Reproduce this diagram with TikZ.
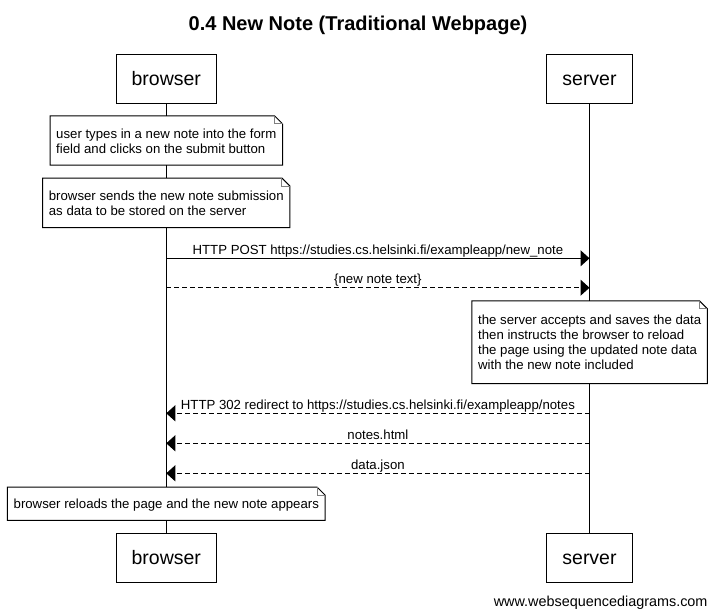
\documentclass[tikz,border=0pt]{standalone}
\usepackage{fontspec}
\setmainfont{Liberation Sans}
\usetikzlibrary{arrows.meta}
\newcommand\ns{\rule[-1.5pt]{0pt}{13.5pt}}
\newcommand\drawnote[1]{%
  \draw[line width=1pt] (#1.north west) -- ([xshift=-8pt]#1.north east) -- ([yshift=-8pt]#1.north east) -- (#1.south east) -- (#1.south west) -- cycle;
  \draw[gray, line width=0.8pt] ([xshift=-8pt]#1.north east) |- ([yshift=-8pt]#1.north east);}
\tikzset{
  actor/.style={draw, line width=1pt, fill=white, font=\fontsize{19.5}{22}\selectfont,
    minimum height=49pt, inner xsep=15.5pt, inner ysep=0pt, text height=14pt, text depth=0pt},
  notebox/.style={fill=white, align=left, font=\fontsize{13.2}{15}\selectfont, inner xsep=6pt, inner ysep=0pt},
  msg/.style={line width=1pt, -{Triangle[length=9pt,width=16pt]}},
  reply/.style={msg, dash pattern=on 5pt off 3pt},
  lbl/.style={font=\fontsize{13.2}{15}\selectfont, anchor=base, inner sep=0pt, yshift=4pt},
}
\begin{document}
\begin{tikzpicture}[x=1pt,y=-1pt]
\useasboundingbox (0,0) rectangle (716,616);
\node[font=\bfseries\fontsize{20}{24}\selectfont, anchor=base, inner sep=0pt] (title) at (358,30) {0.4 New Note (Traditional Webpage)};
\node[actor] (bt) at (166.3,78.5) {browser};
\node[actor] (st) at (589.5,78.5) {server};
\node[actor] (bb) at (166.3,557.8) {browser};
\node[actor] (sb) at (589.5,557.8) {server};
\draw[line width=1pt] (bt) -- (bb);
\draw[line width=1pt] (st) -- (sb);
\node[notebox, minimum height=49pt] (n1) at (166.3,140.5) {\ns user types in a new note into the form\\\ns field and clicks on the submit button};
\drawnote{n1}
\node[notebox, minimum height=49pt] (n2) at (166.3,202.8) {\ns browser sends the new note submission\\\ns as data to be stored on the server};
\drawnote{n2}
\draw[msg] (bt |- 0,258.3) -- node[lbl] {HTTP POST https://studies.cs.helsinki.fi/exampleapp/new\_note} (st |- 0,258.3);
\draw[reply] (bt |- 0,287.7) -- node[lbl] {\{new note text\}} (st |- 0,287.7);
\node[notebox, minimum height=82.3pt] (n3) at (589.7,342.2) {\ns the server accepts and saves the data\\\ns then instructs the browser to reload\\\ns the page using the updated note data\\\ns with the new note included};
\drawnote{n3}
\draw[reply] (st |- 0,413.3) -- node[lbl] {HTTP 302 redirect to https://studies.cs.helsinki.fi/exampleapp/notes} (bt |- 0,413.3);
\draw[reply] (st |- 0,443.3) -- node[lbl] {notes.html} (bt |- 0,443.3);
\draw[reply] (st |- 0,473.3) -- node[lbl] {data.json} (bt |- 0,473.3);
\node[notebox, minimum height=32.7pt] (n4) at (166.3,503.7) {\ns browser reloads the page and the new note appears};
\drawnote{n4}
\node[font=\fontsize{14.4}{16}\selectfont, anchor=base east, inner sep=0pt] (foot) at (707.7,606) {www.websequencediagrams.com};
\end{tikzpicture}
\end{document}
